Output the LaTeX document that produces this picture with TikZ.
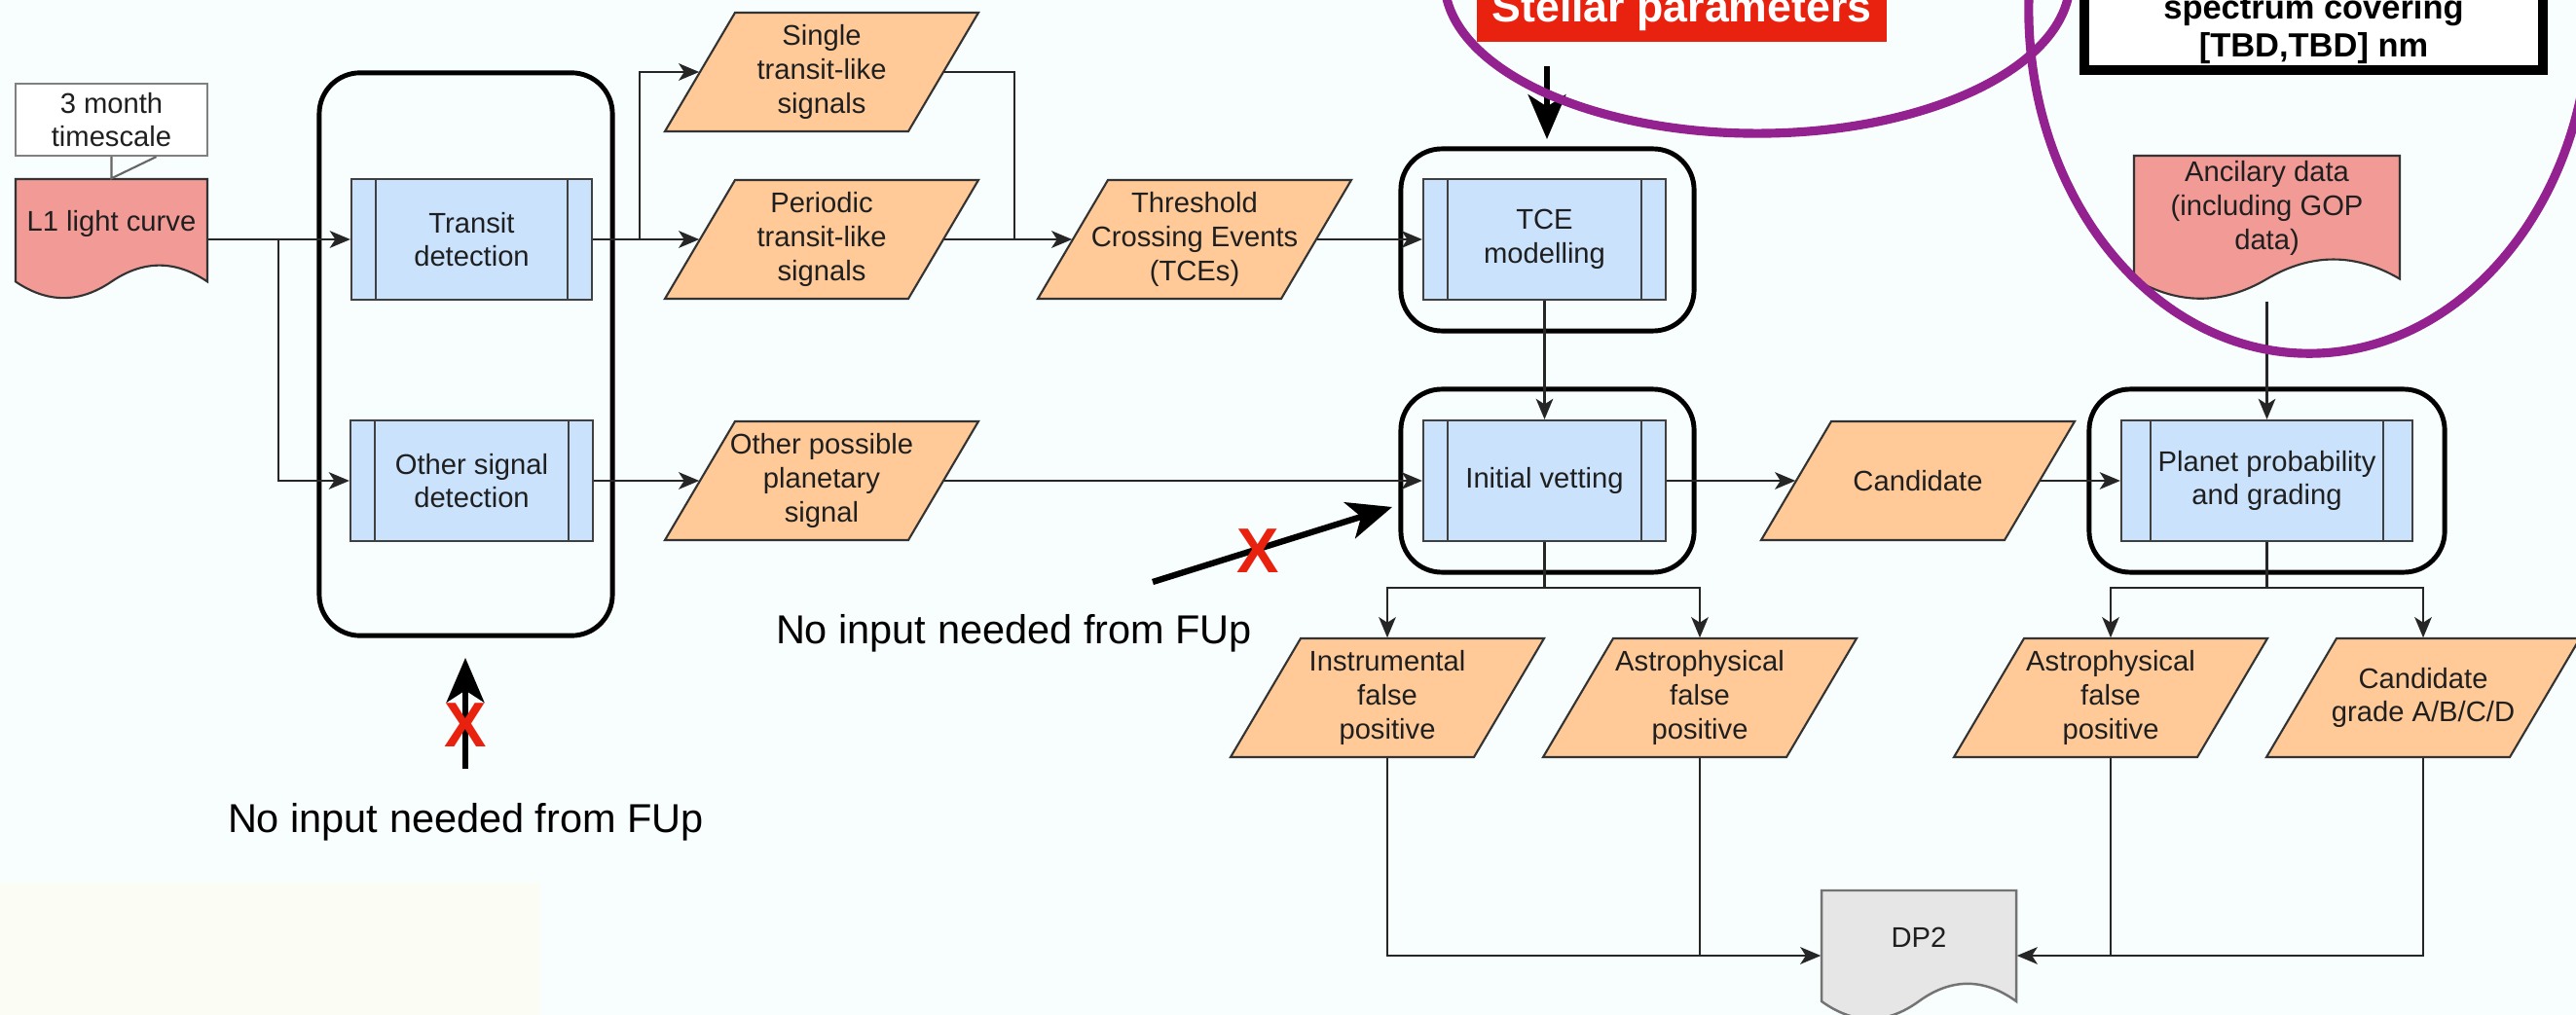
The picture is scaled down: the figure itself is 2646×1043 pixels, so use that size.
\documentclass[tikz,border=0pt]{standalone}
\usepackage{fontspec}
\setmainfont{Liberation Sans}
\usetikzlibrary{arrows.meta,calc}

\definecolor{bgcol}{RGB}{248,253,253}
\definecolor{patchcol}{RGB}{251,253,245}
\definecolor{docred}{RGB}{241,154,150}
\definecolor{paraor}{RGB}{255,202,152}
\definecolor{procblue}{RGB}{202,226,252}
\definecolor{dpgray}{RGB}{230,230,230}
\definecolor{alertred}{RGB}{232,34,14}
\definecolor{ringpurple}{RGB}{147,33,143}

\tikzset{
  txt/.style={font=\fontsize{8.3}{9.9}\selectfont, align=center, text=black!88},
  container/.style={draw=black, line width=1.4pt, rounded corners=0.42cm, inner sep=0pt},
  procbox/.style={txt, draw=black!75, line width=0.6pt, fill=procblue,
    minimum height=1.24cm, inner sep=0pt,
    path picture={\draw[black!75, line width=0.6pt]
      ($(path picture bounding box.north west)!0.1!(path picture bounding box.north east)$) --
      ($(path picture bounding box.south west)!0.1!(path picture bounding box.south east)$)
      ($(path picture bounding box.north west)!0.9!(path picture bounding box.north east)$) --
      ($(path picture bounding box.south west)!0.9!(path picture bounding box.south east)$);}},
  paraline/.style={draw=black!80, line width=0.6pt, fill=paraor},
  paranode/.style={txt, minimum width=2.5cm, minimum height=1.22cm, inner sep=0pt},
  docstyle/.style={draw=black!80, line width=0.6pt, fill=docred},
  dpstyle/.style={draw=black!55, line width=0.7pt, fill=dpgray},
  calloutbox/.style={txt, draw=black!50, line width=0.6pt, fill=white, inner sep=0pt},
  calloutline/.style={draw=black!60, line width=0.6pt},
  wire/.style={draw=black!85, line width=0.65pt},
  flow/.style={wire, -{Stealth[length=6pt,width=5pt,inset=1.6pt]}},
  bigarrow/.style={draw=black, line width=1.8pt, -{Stealth[length=13pt,width=11pt,inset=3.5pt]}},
  crossmark/.style={text=alertred, font=\bfseries\fontsize{18.5}{18.5}\selectfont, inner sep=0pt},
  note/.style={font=\fontsize{11.8}{14}\selectfont, inner sep=0pt},
  ring/.style={draw=ringpurple, line width=2.6pt},
}

% data item: parallelogram with a named text node of the body size
\newcommand{\databox}[4]{%
  \filldraw[paraline] ({#2-89},{#3-61}) -- ({#2+161},{#3-61}) -- ({#2+89},{#3+61}) -- ({#2-161},{#3+61}) -- cycle;
  \node[paranode] (#1) at (#2,#3) {#4};
}

% document shape with a wavy lower edge: name, left, top, width, height, style
\newcommand{\docshape}[6]{%
  \filldraw[#6] (#2,#3) -- ({#2+#4},#3) -- ({#2+#4},{#3+0.85*#5})
    .. controls ({#2+0.8333*#4},{#3+0.67*#5}) and ({#2+0.6667*#4},{#3+0.67*#5}) .. ({#2+0.5*#4},{#3+0.85*#5})
    .. controls ({#2+0.3333*#4},{#3+1.03*#5}) and ({#2+0.1667*#4},{#3+1.03*#5}) .. (#2,{#3+0.85*#5}) -- cycle;
  \node[inner sep=0pt, minimum width={#4*0.01cm}, minimum height={#5*0.01cm}] (#1) at ({#2+0.5*#4},{#3+0.5*#5}) {};
}

\begin{document}
\begin{tikzpicture}[x=0.01cm, y=-0.01cm]
\useasboundingbox (0,0) rectangle (2646,1043);
\clip (0,0) rectangle (2646,1043);
\fill[bgcol] (0,0) rectangle (2646,1043);
\fill[patchcol] (0,907) rectangle (555,1043);

% grouping frames
\node[container, minimum width=3.01cm, minimum height=5.78cm] (grpDetect) at (478.5,364) {};
\node[container, minimum width=3.01cm, minimum height=1.87cm] (grpTCE) at (1589.5,246.5) {};
\node[container, minimum width=3.01cm, minimum height=1.88cm] (grpVet) at (1589.5,494) {};
\node[container, minimum width=3.65cm, minimum height=1.88cm] (grpGrade) at (2328.5,494) {};

% input documents
\docshape{lc}{16}{184}{197}{124}{docstyle}
\node[txt] (lctxt) at (114.5,230) {L1 light curve};
\docshape{ancdoc}{2192}{160}{273}{149}{docstyle}
\node[txt] (anctxt) at (2328.5,214) {Ancilary data\\(including GOP\\data)};
\docshape{dp2}{1871}{915}{200}{134}{dpstyle}
\node[txt] (dp2txt) at (1971,963) {DP2};

% timescale callout
\node[calloutbox, minimum width=1.97cm, minimum height=0.74cm] (tscale) at (114.5,123) {3 month\\timescale};
\draw[calloutline] (tscale.south) -- (lc.north) -- ([xshift=0.46cm]tscale.south);

% data items
\databox{single}{844}{74}{Single\\transit-like\\signals}
\databox{periodic}{844}{246}{Periodic\\transit-like\\signals}
\databox{tces}{1227}{246}{Threshold\\Crossing Events\\(TCEs)}
\databox{otherpl}{844}{494}{Other possible\\planetary\\signal}
\databox{cand}{1970}{494}{Candidate}
\databox{instr}{1425}{717}{Instrumental\\false\\positive}
\databox{astroA}{1746}{717}{Astrophysical\\false\\positive}
\databox{astroB}{2168}{717}{Astrophysical\\false\\positive}
\databox{grade}{2489}{717}{Candidate\\grade A/B/C/D}

% process steps
\node[procbox, minimum width=2.47cm] (transit) at (484.5,246) {Transit\\detection};
\node[procbox, minimum width=2.49cm] (othersig) at (484.5,494) {Other signal\\detection};
\node[procbox, minimum width=2.49cm] (tcemod) at (1586.5,246) {TCE\\modelling};
\node[procbox, minimum width=2.49cm] (vetting) at (1586.5,494) {Initial vetting};
\node[procbox, minimum width=2.99cm] (grading) at (2328.5,494) {Planet probability\\and grading};

% junction points
\coordinate (fork1) at (286,246);
\coordinate (fork2) at (657,246);
\coordinate (merge1) at (1042,246);
\coordinate (fork3) at (1586.5,604);
\coordinate (fork4) at (2328.5,604);
\coordinate (sink1) at (1746,982);
\coordinate (sink2) at (2168,982);

% connectors
\draw[flow] (lc.east) -- (transit.west);
\draw[flow] (fork1) |- (othersig.west);
\draw[flow] (transit.east) -- (periodic.west);
\draw[flow] (fork2) |- (single.west);
\draw[wire] (single.east) -| (merge1);
\draw[flow] (periodic.east) -- (tces.west);
\draw[flow] (tces.east) -- (tcemod.west);
\draw[flow] (othersig.east) -- (otherpl.west);
\draw[flow] (otherpl.east) -- (vetting.west);
\draw[flow] (tcemod.south) -- (vetting.north);
\draw[flow] (vetting.east) -- (cand.west);
\draw[flow] (cand.east) -- (grading.west);
\draw[flow] (ancdoc.south) -- (grading.north);
\draw[wire] (vetting.south) -- (fork3);
\draw[flow] (fork3) -| (instr.north);
\draw[flow] (fork3) -| (astroA.north);
\draw[wire] (grading.south) -- (fork4);
\draw[flow] (fork4) -| (astroB.north);
\draw[flow] (fork4) -| (grade.north);
\draw[flow] (instr.south) |- (dp2.west);
\draw[wire] (astroA.south) -- (sink1);
\draw[flow] (grade.south) |- (dp2.east);
\draw[wire] (astroB.south) -- (sink2);

% external inputs
\node[fill=alertred, minimum width=4.21cm, minimum height=0.66cm, inner sep=0pt] (stellarbox) at (1727.5,10) {};
\node[anchor=base, text=white, font=\bfseries\fontsize{12.7}{15}\selectfont, inner sep=0pt] (stellartxt) at (1727.5,23) {Stellar parameters};
\node[draw=black, line width=2.84pt, fill=white, minimum width=4.71cm, minimum height=1.12cm, inner sep=0pt] (specbox) at (2376.5,16) {};
\node[font=\bfseries\fontsize{9.8}{11.2}\selectfont, align=center, inner sep=0pt] (spectxt) at (2376.5,30) {spectrum covering\\{}[TBD,TBD] nm};

\coordinate (fupA0) at (1589,68);
\coordinate (fupA1) at (1589,143);
\draw[bigarrow] (fupA0) -- (fupA1);

% follow-up inputs that are not needed
\coordinate (fupB0) at (478,790);
\coordinate (fupB1) at (478,676);
\draw[bigarrow] (fupB0) -- (fupB1);
\node[crossmark] (noB) at (478,745) {X};
\node[note] (fupnoteB) at (478.5,845) {No input needed from FUp};

\coordinate (fupC0) at (1184,598);
\coordinate (fupC1) at (1430,521);
\draw[bigarrow] (fupC0) -- (fupC1);
\node[crossmark] (noC) at (1292,566) {X};
\node[note] (fupnoteC) at (1041.5,651) {No input needed from FUp};

% highlight rings
\draw[ring] (1805,-20) ellipse [x radius=3.21cm, y radius=1.57cm];
\draw[ring] (2372,10) ellipse [x radius=2.88cm, y radius=3.53cm];
\end{tikzpicture}
\end{document}
